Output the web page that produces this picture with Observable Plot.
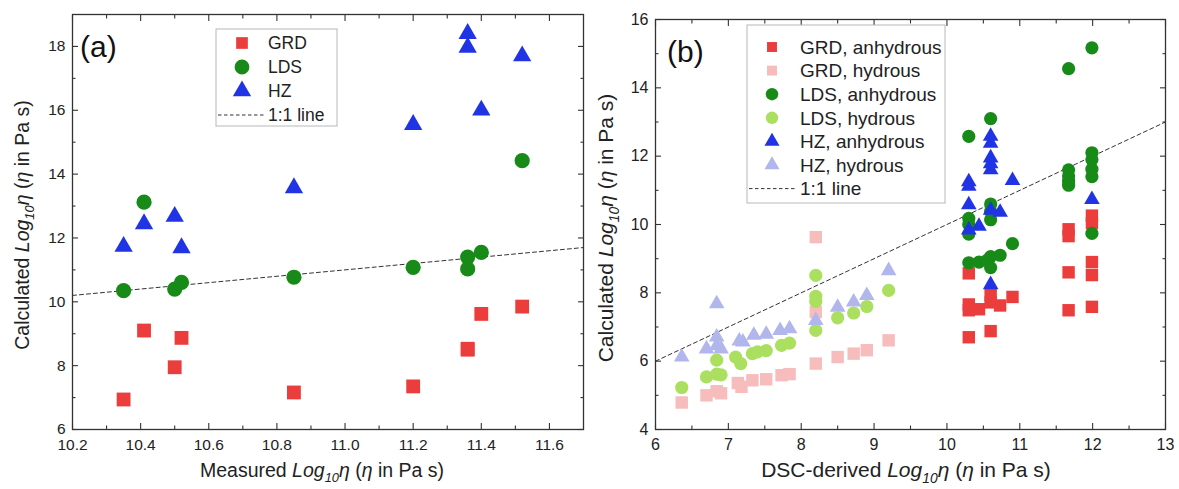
<!DOCTYPE html>
<html>
<head>
<meta charset="utf-8">
<script src="https://cdn.jsdelivr.net/npm/d3@7"></script>
<script src="https://cdn.jsdelivr.net/npm/@observablehq/plot@0.6"></script>
<style>
  html, body { margin: 0; padding: 0; background: #fff; }
  #wrap { position: relative; width: 1179px; height: 489px; overflow: hidden; font-family: "Liberation Sans", Arial, sans-serif; }
  #wrap > div.panel { position: absolute; top: 0; }
  svg text { white-space: pre; }
</style>
</head>
<body>
<div id="wrap">
  <div class="panel" id="pa" style="left:0px"></div>
  <div class="panel" id="pb" style="left:590px"></div>
</div>
<script>
// ---------------- Panel (a) data ----------------
const aMeasured = [10.35, 10.41, 10.50, 10.52, 10.85, 11.20, 11.36, 11.36, 11.40, 11.52];
const aGRD = [6.94, 9.10, 7.95, 8.87, 7.16, 7.35, 8.53, 8.50, 9.62, 9.85];
const aLDS = [10.35, 13.12, 10.40, 10.61, 10.77, 11.08, 11.40, 11.03, 11.55, 14.42];
const aHZ  = [11.73, 12.44, 12.67, 11.69, 13.57, 15.55, 18.40, 17.97, 16.00, 17.70];
const aXTicks = [10.2, 10.4, 10.6, 10.8, 11.0, 11.2, 11.4, 11.6];
const aXMinor = [10.3, 10.5, 10.7, 10.9, 11.1, 11.3, 11.5];
const aYTicks = [6, 8, 10, 12, 14, 16, 18];
const aYMinor = [7, 9, 11, 13, 15, 17];
const aLine = [10.2, 11.7];

// ---------------- Panel (b) data ----------------
const grdHydX = [6.36, 6.70, 6.84, 6.90, 7.13, 7.18, 7.33, 7.52, 7.73, 7.84, 8.20, 8.20, 8.20, 8.50, 8.72, 8.90, 9.20];
const grdHydY = [4.79, 5.00, 5.12, 5.06, 5.36, 5.25, 5.44, 5.47, 5.59, 5.62, 5.93, 7.44, 9.63, 6.12, 6.22, 6.32, 6.61];
const ldsHydX = [6.36, 6.70, 6.84, 6.84, 6.90, 7.10, 7.17, 7.33, 7.40, 7.52, 7.73, 7.84, 8.20, 8.20, 8.20, 8.20, 8.50, 8.72, 8.90, 9.20];
const ldsHydY = [5.23, 5.54, 6.03, 5.62, 5.60, 6.12, 5.93, 6.22, 6.27, 6.31, 6.46, 6.53, 8.51, 7.90, 7.75, 6.90, 7.27, 7.41, 7.60, 8.07];
const hzHydX = [6.36, 6.70, 6.84, 6.84, 6.84, 6.90, 7.15, 7.20, 7.35, 7.52, 7.71, 7.84, 8.20, 8.50, 8.72, 8.90, 9.20];
const hzHydY = [6.12, 6.36, 7.68, 6.71, 6.45, 6.36, 6.59, 6.56, 6.76, 6.79, 6.90, 6.95, 7.19, 7.58, 7.73, 7.92, 8.65];

const grdAnhX = [10.30, 10.30, 10.30, 10.30, 10.44, 10.60, 10.60, 10.73, 10.60, 10.90, 11.67, 11.67, 11.67, 11.67, 11.99, 11.99, 11.99, 11.99, 11.99];
const grdAnhY = [8.57, 7.66, 7.49, 6.70, 7.52, 7.93, 7.72, 7.63, 6.88, 7.88, 9.86, 9.66, 8.60, 7.49, 10.26, 10.04, 8.90, 8.52, 7.59];
const ldsAnhX = [10.30, 10.30, 10.30, 10.30, 10.30, 10.44, 10.60, 10.60, 10.60, 10.60, 10.60, 10.73, 10.55, 10.60, 10.90, 11.67, 11.67, 11.67, 11.67, 11.67, 11.99, 11.99, 11.99, 11.99, 11.99, 11.99];
const ldsAnhY = [12.58, 10.18, 10.00, 9.72, 8.88, 8.90, 13.10, 10.60, 10.38, 10.14, 9.06, 9.10, 8.95, 8.74, 9.44, 14.56, 11.60, 11.42, 11.27, 11.15, 15.17, 12.10, 11.90, 11.62, 11.40, 9.74];
const hzAnhX = [10.30, 10.30, 10.30, 10.30, 10.44, 10.60, 10.60, 10.60, 10.60, 10.60, 10.60, 10.73, 10.60, 10.90, 11.99];
const hzAnhY = [11.25, 11.12, 10.58, 9.84, 9.95, 12.58, 12.38, 11.95, 11.78, 11.60, 10.42, 10.36, 8.24, 11.29, 10.73];

const bXTicks = [6, 7, 8, 9, 10, 11, 12, 13];
const bXMinor = [6.5, 7.5, 8.5, 9.5, 10.5, 11.5, 12.5];
const bYTicks = [4, 6, 8, 10, 12, 14, 16];
const bYMinor = [5, 7, 9, 11, 13, 15];
const bLine = [6, 13];

// ---------------- Styles ----------------
const RED = "#ec3d3d", PINK = "#f7bcbc", GREEN = "#178a17", LGREEN = "#aadf5f", BLUE = "#2034e6", LBLUE = "#b1b7ec";
const FONT = "Liberation Sans, Arial, sans-serif";

const pts = (xs, ys) => xs.map((x, i) => ({x, y: ys[i]}));

function frameAxes(xT, xM, yT, yM, xFmt, yFmt, fs) {
  const c = {stroke: "#333", strokeWidth: 1.1, text: null, label: null};
  const MJ = 6, MN = 3.5;
  return [
    Plot.axisX(xT, {anchor: "bottom", tickSize: 0, tickPadding: 9, tickFormat: xFmt, label: null, fontSize: fs, fill: "#222"}),
    Plot.axisY(yT, {anchor: "left", tickSize: 0, tickPadding: 7, tickFormat: yFmt, label: null, fontSize: fs, fill: "#222"}),
    // inward ticks on all four sides (shifted inside the frame)
    Plot.axisX(xT, {anchor: "bottom", tickSize: MJ, dy: -MJ, ...c}),
    Plot.axisX(xM, {anchor: "bottom", tickSize: MN, dy: -MN, ...c}),
    Plot.axisX(xT, {anchor: "top", tickSize: MJ, dy: MJ, ...c}),
    Plot.axisX(xM, {anchor: "top", tickSize: MN, dy: MN, ...c}),
    Plot.axisY(yT, {anchor: "left", tickSize: MJ, dx: MJ, ...c}),
    Plot.axisY(yM, {anchor: "left", tickSize: MN, dx: MN, ...c}),
    Plot.axisY(yT, {anchor: "right", tickSize: MJ, dx: -MJ, ...c}),
    Plot.axisY(yM, {anchor: "right", tickSize: MN, dx: -MN, ...c}),
    Plot.frame({stroke: "#333", strokeWidth: 1.3})
  ];
}

function axisTitle(svg, x, y, rotate, prefix, fs) {
  const t = d3.select(svg).append("text")
    .attr("transform", `translate(${x},${y}) rotate(${rotate})`)
    .attr("text-anchor", "middle").attr("font-size", fs).attr("fill", "#222")
    .attr("font-family", FONT);
  t.append("tspan").text(prefix + " ");
  t.append("tspan").attr("font-style", "italic").text("Log");
  t.append("tspan").attr("font-style", "italic").attr("font-size", fs * 0.66).attr("dy", fs * 0.28).text("10");
  t.append("tspan").attr("font-style", "italic").attr("dy", -fs * 0.28).text("η");
  t.append("tspan").text(" (");
  t.append("tspan").attr("font-style", "italic").text("η");
  t.append("tspan").text(" in Pa s)");
}

function legend(svg, x0, y0, w, h, rows, opt) {
  const g = d3.select(svg).append("g").attr("font-family", FONT).attr("font-size", opt.fs).attr("text-anchor", "start");
  g.append("rect").attr("x", x0).attr("y", y0).attr("width", w).attr("height", h)
    .attr("fill", "#fff").attr("stroke", "#b8b8b8").attr("stroke-width", 1);
  rows.forEach((r, i) => {
    const cy = y0 + opt.first + i * opt.step;
    if (r.symbol === "line") {
      g.append("line").attr("x1", x0 + 2).attr("x2", opt.textX - 3).attr("y1", cy).attr("y2", cy)
        .attr("stroke", "#333").attr("stroke-dasharray", "3.5,2.5").attr("stroke-width", 1);
    } else {
      const type = r.symbol === "square" ? d3.symbolSquare : r.symbol === "circle" ? d3.symbolCircle : d3.symbolTriangle;
      g.append("path").attr("transform", `translate(${opt.symX},${cy})`)
        .attr("d", d3.symbol(type, Math.PI * r.r * r.r)()).attr("fill", r.color);
    }
    g.append("text").attr("x", opt.textX).attr("y", cy).attr("dy", "0.36em").attr("fill", "#222")
      .attr("text-anchor", "start").text(r.label);
  });
}

function panelLabel(svg, x, y, txt) {
  d3.select(svg).append("text").attr("x", x).attr("y", y).attr("font-size", 30)
    .attr("font-family", FONT).attr("fill", "#111").attr("text-anchor", "start").text(txt);
}

// ---------------- Panel (a) ----------------
const chartA = Plot.plot({
  width: 590, height: 489,
  marginLeft: 72, marginRight: 7, marginTop: 14, marginBottom: 60,
  style: {fontFamily: FONT, fontSize: "15px", color: "#222", background: "#fff"},
  x: {domain: [10.2, 11.7]},
  y: {domain: [6, 19]},
  marks: [
    ...frameAxes(aXTicks, aXMinor, aYTicks, aYMinor, d => d.toFixed(1), d => String(d), 15.5),
    Plot.line(aLine.map(v => ({x: v, y: v})), {x: "x", y: "y", stroke: "#333", strokeWidth: 1, strokeDasharray: "4,3"}),
    Plot.dot(pts(aMeasured, aGRD), {x: "x", y: "y", symbol: "square", r: 7.8, fill: RED}),
    Plot.dot(pts(aMeasured, aLDS), {x: "x", y: "y", symbol: "circle", r: 7.6, fill: GREEN}),
    Plot.dot(pts(aMeasured, aHZ), {x: "x", y: "y", symbol: "triangle", r: 6.8, fill: BLUE})
  ]
});
document.getElementById("pa").appendChild(chartA);
axisTitle(chartA, 29, 225, -90, "Calculated", 19.5);
axisTitle(chartA, 322, 477, 0, "Measured", 19.5);
panelLabel(chartA, 80, 57, "(a)");
legend(chartA, 216, 29, 121, 97, [
  {label: "GRD", symbol: "square", color: RED, r: 6.6},
  {label: "LDS", symbol: "circle", color: GREEN, r: 7.4},
  {label: "HZ", symbol: "triangle", color: BLUE, r: 6.8},
  {label: "1:1 line", symbol: "line"}
], {fs: 17.5, first: 14, step: 24, symX: 242, textX: 268});

// ---------------- Panel (b) ----------------
const chartB = Plot.plot({
  width: 589, height: 489,
  marginLeft: 65, marginRight: 14, marginTop: 19, marginBottom: 60,
  style: {fontFamily: FONT, fontSize: "16px", color: "#222", background: "#fff"},
  x: {domain: [6, 13]},
  y: {domain: [4, 16]},
  marks: [
    ...frameAxes(bXTicks, bXMinor, bYTicks, bYMinor, d => String(d), d => String(d), 16),
    Plot.line(bLine.map(v => ({x: v, y: v})), {x: "x", y: "y", stroke: "#333", strokeWidth: 1, strokeDasharray: "4,3"}),
    Plot.dot(pts(grdHydX, grdHydY), {x: "x", y: "y", symbol: "square", r: 7, fill: PINK}),
    Plot.dot(pts(ldsHydX, ldsHydY), {x: "x", y: "y", symbol: "circle", r: 6.6, fill: LGREEN}),
    Plot.dot(pts(hzHydX, hzHydY), {x: "x", y: "y", symbol: "triangle", r: 5.8, fill: LBLUE}),
    Plot.dot(pts(grdAnhX, grdAnhY), {x: "x", y: "y", symbol: "square", r: 7, fill: RED}),
    Plot.dot(pts(ldsAnhX, ldsAnhY), {x: "x", y: "y", symbol: "circle", r: 6.6, fill: GREEN}),
    Plot.dot(pts(hzAnhX, hzAnhY), {x: "x", y: "y", symbol: "triangle", r: 5.8, fill: BLUE})
  ]
});
document.getElementById("pb").appendChild(chartB);
axisTitle(chartB, 23, 228, -90, "Calculated", 21);
axisTitle(chartB, 316, 477, 0, "DSC-derived", 21);
panelLabel(chartB, 77, 62, "(b)");
legend(chartB, 157, 25, 198, 178, [
  {label: "GRD, anhydrous", symbol: "square", color: RED, r: 5.6},
  {label: "GRD, hydrous", symbol: "square", color: PINK, r: 5.6},
  {label: "LDS, anhydrous", symbol: "circle", color: GREEN, r: 6.2},
  {label: "LDS, hydrous", symbol: "circle", color: LGREEN, r: 6.2},
  {label: "HZ, anhydrous", symbol: "triangle", color: BLUE, r: 5.6},
  {label: "HZ, hydrous", symbol: "triangle", color: LBLUE, r: 5.6},
  {label: "1:1 line", symbol: "line"}
], {fs: 19, first: 22, step: 23.6, symX: 182, textX: 210});
</script>
</body>
</html>
